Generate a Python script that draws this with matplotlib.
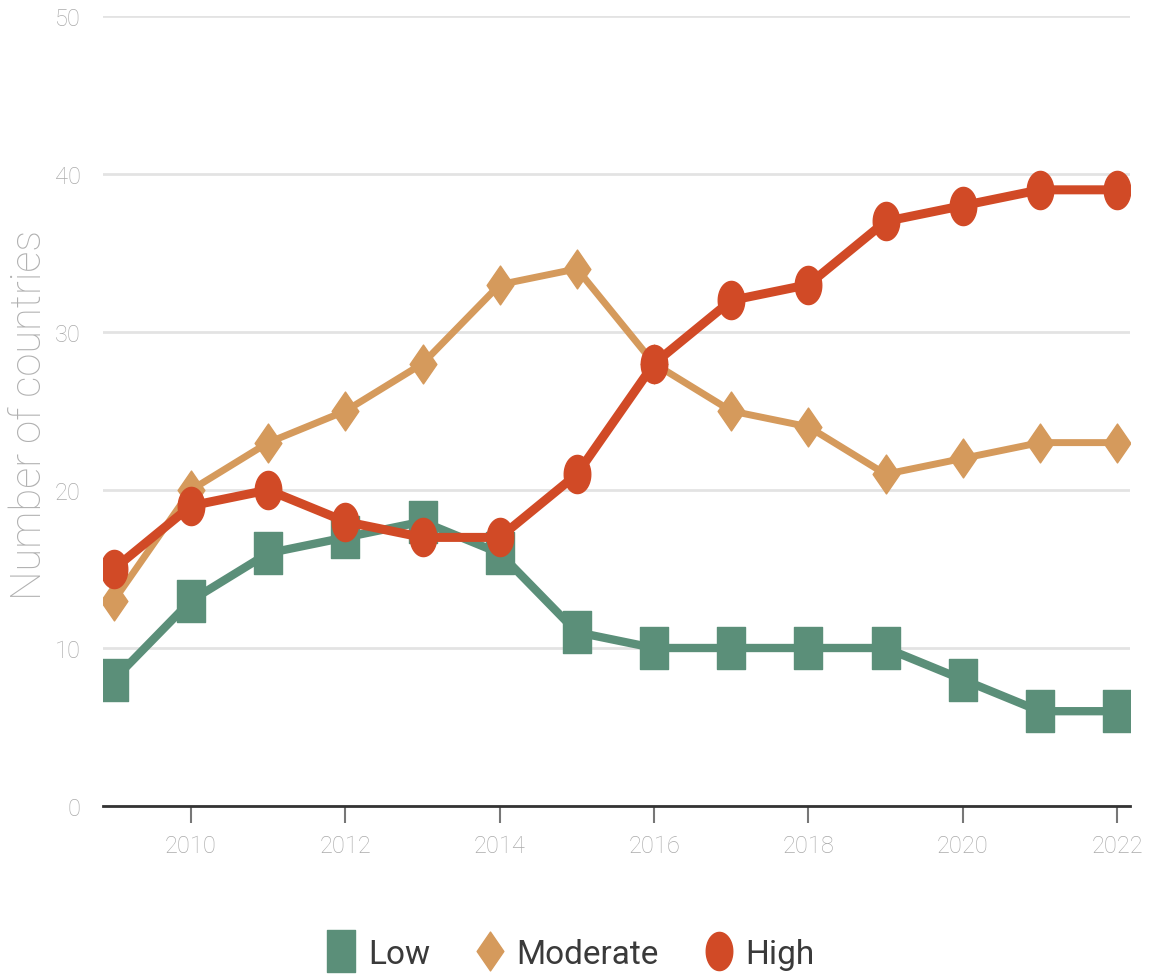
import matplotlib
matplotlib.use("Agg")
import matplotlib.pyplot as plt
import numpy as np
from matplotlib.path import Path

# Number of countries per category, 2009-2022
years = list(range(2009, 2023))
low = [8, 13, 16, 17, 18, 16, 11, 10, 10, 10, 10, 8, 6, 6]
moderate = [13, 20, 23, 25, 28, 33, 34, 28, 25, 24, 21, 22, 23, 23]
high = [15, 19, 20, 18, 17, 17, 21, 28, 32, 33, 37, 38, 39, 39]

series_names = ["Low", "Moderate", "High"]
colors = ["#5b8f79", "#d59a5c", "#d14a26"]

font = ["Roboto", "DejaVu Sans"]

# tall markers (the chart is squeezed horizontally)
tall_square = Path([(-0.5, -0.75), (0.5, -0.75), (0.5, 0.75), (-0.5, 0.75), (-0.5, -0.75)],
                   [Path.MOVETO, Path.LINETO, Path.LINETO, Path.LINETO, Path.CLOSEPOLY])
t = np.linspace(0, 2 * np.pi, 60)
tall_circle = Path(np.column_stack([0.5 * np.cos(t), 0.72 * np.sin(t)]), closed=True)
tall_diamond = Path([(0, -0.8), (0.55, 0), (0, 0.8), (-0.55, 0), (0, -0.8)],
                    [Path.MOVETO, Path.LINETO, Path.LINETO, Path.LINETO, Path.CLOSEPOLY])

fig = plt.figure(figsize=(11.51, 9.79), dpi=100)
ax = fig.add_axes([0.0895, 0.1757, 0.8925, 0.8069])

ax.plot(years, low, color=colors[0], lw=6, marker=tall_square, ms=30,
        label=series_names[0], zorder=3)
ax.plot(years, moderate, color=colors[1], lw=5, marker=tall_diamond, ms=28,
        label=series_names[1], zorder=4)
ax.plot(years, high, color=colors[2], lw=6.5, marker=tall_circle, ms=27.5,
        label=series_names[2], zorder=5)

ax.set_xlim(2008.86, 2022.17)
ax.set_ylim(0, 50)
ax.set_yticks([0, 10, 20, 30, 40, 50])
ax.set_xticks(range(2010, 2023, 2))
ax.grid(axis="y", color="#e3e3e3", lw=2)
ax.set_axisbelow(True)

for s in ["top", "right", "left"]:
    ax.spines[s].set_visible(False)
ax.spines["bottom"].set_color("#333333")
ax.spines["bottom"].set_linewidth(2)

ax.tick_params(axis="y", length=0, pad=16, labelsize=17, labelcolor="#aaaaaa")
ax.tick_params(axis="x", length=12, width=1.5, color="#777777", pad=8,
               labelsize=17, labelcolor="#aaaaaa")
for lab in ax.get_xticklabels() + ax.get_yticklabels():
    lab.set_family(font)
    lab.set_fontweight("light")

ax.set_ylabel("Number of countries", fontsize=30, color="#b0b0b0",
              family=font, fontweight="light")
ax.yaxis.set_label_coords(-0.052, 0.496)

leg = fig.legend(loc="center", bbox_to_anchor=(0.495, 0.025), ncol=3,
                 frameon=False, handlelength=1.0, handletextpad=0.3,
                 columnspacing=1.3, prop={"family": font, "size": 24})
for h in leg.legend_handles:
    h.set_linestyle("none")
for txt in leg.get_texts():
    txt.set_color("#3a3a3a")

fig.savefig("out.png", dpi=100)
